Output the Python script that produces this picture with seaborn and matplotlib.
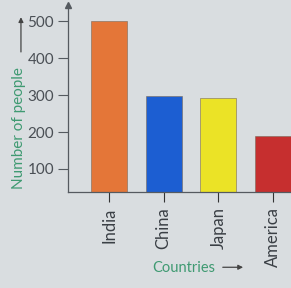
import pandas as pd
import matplotlib.pyplot as plt
import seaborn as sns

# Данные
countries = ['India', 'China', 'Japan', 'America']
people = [500, 298, 293, 190]
bar_colors = ['#e47638', '#1c5ed2', '#ebe326', '#c62f2f']

df = pd.DataFrame({'country': countries, 'people': people})

bg = '#d9dde0'
green = '#3f9a72'
axis_col = '#555a60'

sns.set_style('white')
plt.rcParams['font.family'] = ['Lato', 'DejaVu Sans']
fig = plt.figure(figsize=(2.91, 2.88), dpi=100, facecolor=bg)
ax = fig.add_axes([0.234, 0.333, 0.766, 0.65], facecolor=bg)

sns.barplot(data=df, x='country', y='people', hue='country', palette=bar_colors,
            saturation=1, legend=False, width=0.66, edgecolor='#7a6a5a',
            linewidth=0.4, ax=ax)

ax.set_ylim(37, 545)
ax.set_xlim(-0.75, 3.33)
ax.set_yticks([100, 200, 300, 400, 500])
ax.tick_params(axis='y', length=7, width=0.8, color=axis_col, labelsize=11,
               labelcolor='#4a4f55', pad=3, left=True)
ax.tick_params(axis='x', length=7, width=0.8, color='#333', labelsize=12,
               labelcolor='#3a3f45', rotation=90, pad=4, bottom=True)
ax.set_xlabel('')
ax.set_ylabel('')
for s in ['top', 'right']:
    ax.spines[s].set_visible(False)
for s in ['left', 'bottom']:
    ax.spines[s].set_color(axis_col)
    ax.spines[s].set_linewidth(0.9)

# стрелка на оси Y
ax.plot(0, 1, '^', transform=ax.transAxes, clip_on=False, ms=4, color=axis_col)

# подписи осей со стрелками
fig.text(0.064, 0.555, 'Number of people', rotation=90, color=green,
         fontsize=11, ha='center', va='center')
fig.text(0.632, 0.068, 'Countries', color=green, fontsize=10.5,
         ha='center', va='center')
ax.annotate('', xy=(0.072, 0.95), xytext=(0.072, 0.81), xycoords='figure fraction',
            arrowprops=dict(arrowstyle='-|>', color='#444', lw=0.9, mutation_scale=7))
ax.annotate('', xy=(0.845, 0.072), xytext=(0.756, 0.072), xycoords='figure fraction',
            arrowprops=dict(arrowstyle='-|>', color='#444', lw=0.9, mutation_scale=7))

plt.savefig('out.png', dpi=100, facecolor=bg)
